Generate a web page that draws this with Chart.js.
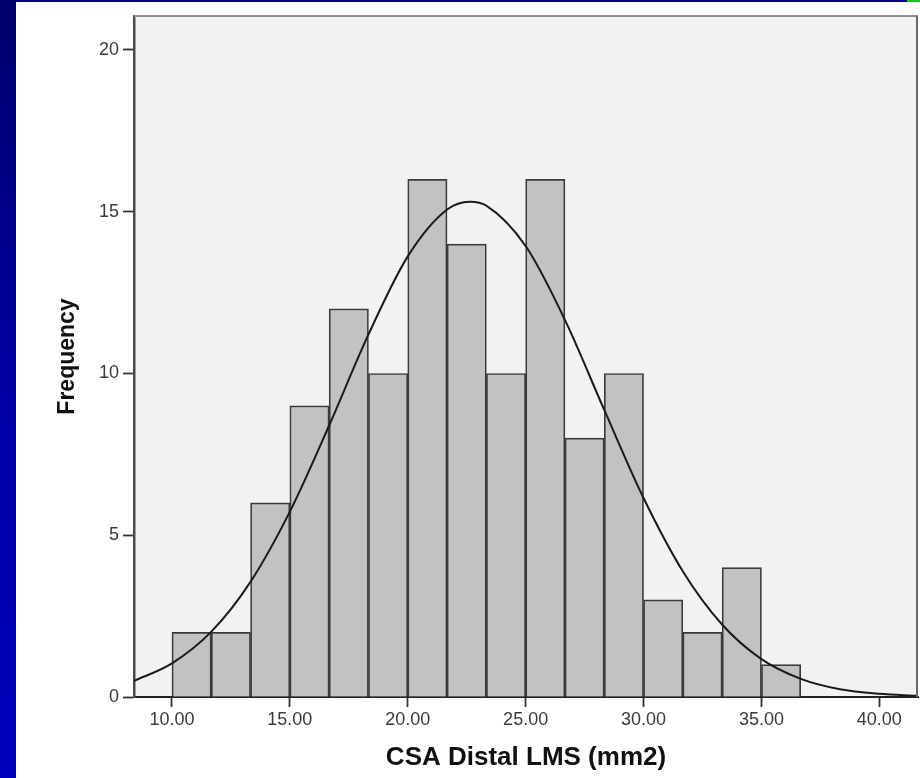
<!DOCTYPE html>
<html>
<head>
<meta charset="utf-8">
<script src="https://cdn.jsdelivr.net/npm/chart.js@4.4.0/dist/chart.umd.min.js"></script>
<style>
  html, body { margin: 0; padding: 0; background: #fff; }
  body { width: 920px; height: 778px; position: relative; overflow: hidden; }
  #sideBar { position: absolute; left: 0; top: 0; width: 16px; height: 778px;
             background: linear-gradient(#00006c, #0000a8 55%, #0000bc); }
  #topBar { position: absolute; left: 0; top: 0; width: 920px; height: 2px; background: #000070; }
  #corner { position: absolute; left: 907px; top: 0; width: 13px; height: 2px; background: #22c322; }
  #chart { position: absolute; left: 0; top: 0; }
</style>
</head>
<body>
<div id="sideBar"></div>
<div id="topBar"></div>
<div id="corner"></div>
<canvas id="chart" width="920" height="778"></canvas>
<script>
// histogram bins (centres, width 5/3) and counts
const binCenters = [10.833, 12.5, 14.167, 15.833, 17.5, 19.167, 20.833, 22.5,
                    24.167, 25.833, 27.5, 29.167, 30.833, 32.5, 34.167, 35.833];
const counts = [2, 2, 6, 9, 12, 10, 16, 14, 10, 16, 8, 10, 3, 2, 4, 1];

// normal curve
const curveX = [8.4, 10, 11.67, 13.33, 15, 16.67, 18.33, 20, 21.67, 22.64, 23.33,
                25, 26.67, 28.33, 30, 31.67, 33.33, 35, 36.67, 38.33, 40, 41.6];
const curveY = [0.50, 1.04, 2.02, 3.56, 5.73, 8.40, 11.20, 13.62, 15.07, 15.31, 15.19,
                13.94, 11.65, 8.88, 6.15, 3.88, 2.24, 1.17, 0.56, 0.24, 0.10, 0.04];

const xTicks = [10, 15, 20, 25, 30, 35, 40];
const yTicks = [0, 5, 10, 15, 20];

const xTitle = 'CSA Distal LMS (mm2)';
const yTitle = 'Frequency';

// plot background + top/right frame
const frame = {
  id: 'frame',
  beforeDraw(chart) {
    const { ctx, chartArea: a } = chart;
    ctx.save();
    ctx.fillStyle = '#f2f2f2';
    ctx.fillRect(a.left, a.top, a.right - a.left, a.bottom - a.top);
    ctx.restore();
  },
  afterDraw(chart) {
    const { ctx, chartArea: a } = chart;
    ctx.save();
    ctx.lineWidth = 2;
    ctx.strokeStyle = '#8c8c8c';
    ctx.beginPath(); ctx.moveTo(a.left, a.top); ctx.lineTo(a.right, a.top); ctx.stroke();
    ctx.strokeStyle = '#6a6a6a';
    ctx.beginPath(); ctx.moveTo(a.right - 1, a.top); ctx.lineTo(a.right - 1, a.bottom); ctx.stroke();
    ctx.restore();
  }
};

const tickFont = { family: 'Liberation Sans, Arial, sans-serif', size: 18 };

new Chart(document.getElementById('chart'), {
  type: 'bar',
  data: {
    datasets: [
      {
        type: 'line',
        data: curveX.map((x, i) => ({ x, y: curveY[i] })),
        borderColor: '#1a1a1a',
        borderWidth: 2,
        pointRadius: 0,
        cubicInterpolationMode: 'monotone',
        order: 0
      },
      {
        type: 'bar',
        data: binCenters.map((x, i) => ({ x, y: counts[i] })),
        backgroundColor: '#c2c2c2',
        borderColor: '#3a3a3a',
        borderWidth: 1.7,
        barPercentage: 1,
        categoryPercentage: 1,
        order: 1
      }
    ]
  },
  options: {
    responsive: false,
    animation: false,
    devicePixelRatio: 1,
    layout: { padding: { top: 16, right: 2, left: 0, bottom: 0 } },
    plugins: { legend: { display: false }, tooltip: { enabled: false } },
    scales: {
      x: {
        type: 'linear',
        offset: false,
        min: 8.39,
        max: 41.64,
        afterFit: s => { s.height = 81; },
        afterBuildTicks: s => { s.ticks = xTicks.map(v => ({ value: v })); },
        ticks: {
          color: '#3a3a3a',
          font: tickFont,
          padding: 2,
          maxRotation: 0,
          callback: v => Number(v).toFixed(2)
        },
        grid: { offset: false, drawOnChartArea: false, drawTicks: true, tickLength: 10, tickWidth: 1.8, tickColor: '#333' },
        border: { display: true, color: '#222', width: 2 },
        title: {
          display: true,
          text: xTitle,
          color: '#111',
          font: { family: 'Liberation Sans, Arial, sans-serif', size: 26, weight: 'bold' },
          padding: { top: 0, bottom: 5 }
        }
      },
      y: {
        min: 0,
        max: 21.05,
        afterFit: s => { s.width = 134; },
        afterBuildTicks: s => { s.ticks = yTicks.map(v => ({ value: v })); },
        ticks: { color: '#3a3a3a', font: tickFont, padding: 4 },
        grid: { drawOnChartArea: false, drawTicks: true, tickLength: 11, tickWidth: 1.8, tickColor: '#333' },
        border: { display: true, color: '#4a4a4a', width: 2.5 },
        title: {
          display: true,
          text: yTitle,
          color: '#111',
          font: { family: 'Liberation Sans, Arial, sans-serif', size: 23, weight: 'bold' },
          padding: { top: 54, bottom: 0 }
        }
      }
    }
  },
  plugins: [frame]
});
</script>
</body>
</html>
